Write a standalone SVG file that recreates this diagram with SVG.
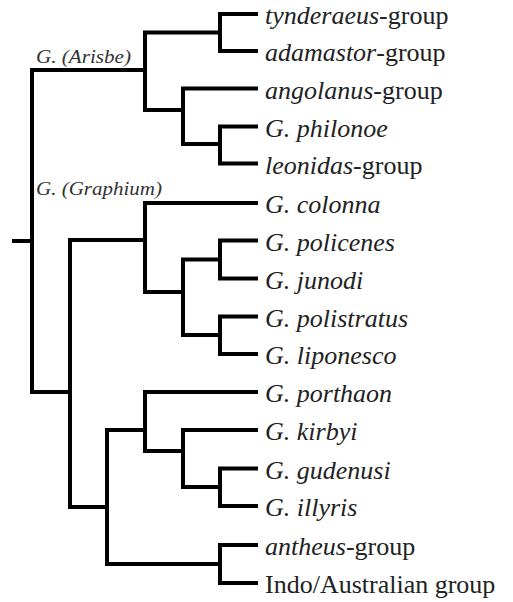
<svg xmlns="http://www.w3.org/2000/svg" width="513" height="602" viewBox="0 0 513 602">
<style>
.e{fill:none;stroke:#000;stroke-width:4;stroke-linecap:square;stroke-linejoin:miter}
text{font-family:"Liberation Serif","Times New Roman",serif;fill:#222}
.leaf{font-size:26px}
.i{font-style:italic}
.cl{font-size:19px;font-style:italic;fill:#333}
</style>
<rect width="513" height="602" fill="#fff"/>
<g id="connectors">
<path class="e" d="M14,241H32"/>
<path class="e" d="M145,70H32V392H70"/>
<path class="e" d="M220,32.5H145V110H183"/>
<path class="e" d="M256,14H220V51H256"/>
<path class="e" d="M256,88.5H183V144H220"/>
<path class="e" d="M256,126.5H220V163.5H256"/>
<path class="e" d="M145,240H70V507H107"/>
<path class="e" d="M256,203H145V292H183"/>
<path class="e" d="M220,259.5H183V335H220"/>
<path class="e" d="M256,240.5H220V278.5H256"/>
<path class="e" d="M256,316.5H220V354H256"/>
<path class="e" d="M145,430H107V564H220"/>
<path class="e" d="M256,392H145V451H183"/>
<path class="e" d="M256,430H183V487H220"/>
<path class="e" d="M256,468.5H220V506H256"/>
<path class="e" d="M256,545H220V583H256"/>
</g>
<g id="clade-arisbe"><text class="cl" x="36" y="63" textLength="95" lengthAdjust="spacingAndGlyphs">G. (Arisbe)</text></g>
<g id="clade-graphium"><text class="cl" x="36" y="195" textLength="126" lengthAdjust="spacingAndGlyphs">G. (Graphium)</text></g>
<g id="leaf-tynderaeus"><text class="leaf" x="265" y="24"><tspan class="i">tynderaeus</tspan>-group</text></g>
<g id="leaf-adamastor"><text class="leaf" x="265" y="61"><tspan class="i">adamastor</tspan>-group</text></g>
<g id="leaf-angolanus"><text class="leaf" x="265" y="98.5"><tspan class="i">angolanus</tspan>-group</text></g>
<g id="leaf-philonoe"><text class="leaf i" x="265" y="136.5">G. philonoe</text></g>
<g id="leaf-leonidas"><text class="leaf" x="265" y="173.5"><tspan class="i">leonidas</tspan>-group</text></g>
<g id="leaf-colonna"><text class="leaf i" x="265" y="213">G. colonna</text></g>
<g id="leaf-policenes"><text class="leaf i" x="265" y="250.5">G. policenes</text></g>
<g id="leaf-junodi"><text class="leaf i" x="265" y="288.5">G. junodi</text></g>
<g id="leaf-polistratus"><text class="leaf i" x="265" y="326.5">G. polistratus</text></g>
<g id="leaf-liponesco"><text class="leaf i" x="265" y="364">G. liponesco</text></g>
<g id="leaf-porthaon"><text class="leaf i" x="265" y="402">G. porthaon</text></g>
<g id="leaf-kirbyi"><text class="leaf i" x="265" y="440">G. kirbyi</text></g>
<g id="leaf-gudenusi"><text class="leaf i" x="265" y="478.5">G. gudenusi</text></g>
<g id="leaf-illyris"><text class="leaf i" x="265" y="516">G. illyris</text></g>
<g id="leaf-antheus"><text class="leaf" x="265" y="555"><tspan class="i">antheus</tspan>-group</text></g>
<g id="leaf-indo"><text class="leaf" x="265" y="593">Indo/Australian group</text></g>
</svg>
